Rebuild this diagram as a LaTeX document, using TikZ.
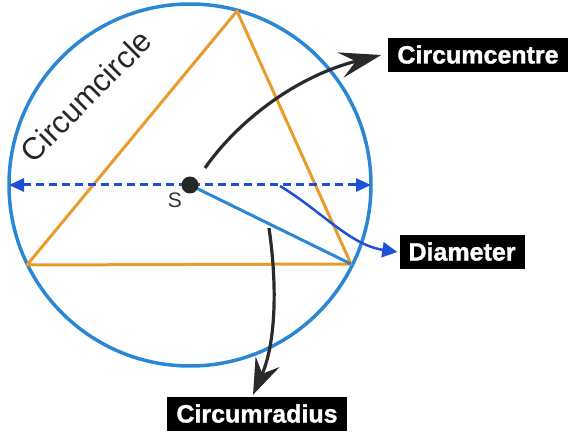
\documentclass[tikz,border=0pt]{standalone}
\usepackage{fontspec}
\setmainfont{Liberation Sans}
\newfontfamily\heavyfont{Liberation Sans Bold}[FakeBold=1.4]
\usetikzlibrary{arrows.meta,calc}
\definecolor{circblue}{HTML}{2B87D3}
\definecolor{triorange}{HTML}{E89C2C}
\definecolor{dashblue}{HTML}{1D50D6}
\definecolor{arrowblack}{HTML}{2A2A2A}
\tikzset{
	labelbox/.style={fill=black, text=white, font=\fontsize{25}{30}\selectfont\heavyfont, inner xsep=9pt, inner ysep=0pt, minimum height=34pt, text height=18pt, text depth=1pt},
	blackarrow/.style={line width=3.2pt, color=arrowblack},
}

\begin{document}
\begin{tikzpicture}[x=1pt, y=-1pt]
		%%%%% START %%%%%
		\useasboundingbox (0,0) rectangle (576,433);
		
		\coordinate (S) at (190,185);
		\coordinate (A) at (237,11);
		\coordinate (B) at (27,265);
		\coordinate (C) at (351,264);
		\coordinate (W) at (9,185);
		\coordinate (E) at (371,185);
		
		\draw[line width=3.5pt, color=circblue] (S) circle (181pt);
		\draw[line width=3pt, color=triorange, line join=round] (A) -- (B) -- (C) -- cycle;
		
		\draw[line width=3pt, color=dashblue, dash pattern=on 8pt off 5pt, {Triangle[length=15pt,width=13pt]}-{Triangle[length=15pt,width=13pt]}] (W) -- (E);
		\draw[line width=3pt, color=circblue] (S) -- (C);
		\node[circle, fill=black!85, minimum size=17pt, inner sep=0pt] (dot) at (S) {};
		
		\node[text=black!80, font=\fontsize{21}{24}\selectfont] (slabel) at (175,200) {S};
		\node[rotate=45, text=black!85, font=\fontsize{31}{34}\selectfont] (circlabel) at (86,96) {Circumcircle};
		
		\node[labelbox] (centre) at (478,55) {Circumcentre};
		\node[labelbox] (diam) at (462,252) {Diameter};
		\node[labelbox] (radius) at (257,414) {Circumradius};
		
		\coordinate (cstart) at (205,168);
		\draw[blackarrow, -{Stealth[length=42pt, width=26pt, inset=16pt]}] (cstart) .. controls (240,118) and (300,75) .. ([xshift=-7pt]centre.west);
		
		\coordinate (dstart) at (280,186);
		\draw[line width=2.5pt, color=dashblue, -{Triangle[length=15pt,width=15pt]}] (dstart) .. controls (320,210) and (350,245) .. ([xshift=-2pt]diam.west);
		
		\coordinate (rstart) at (269,228);
		\draw[blackarrow, -{Stealth[length=36pt, width=26pt, inset=13pt]}] (rstart) .. controls (278,290) and (275,345) .. ([xshift=-4pt,yshift=2pt]radius.north);
		
		%%%%% END %%%%%
\end{tikzpicture}
\end{document}
